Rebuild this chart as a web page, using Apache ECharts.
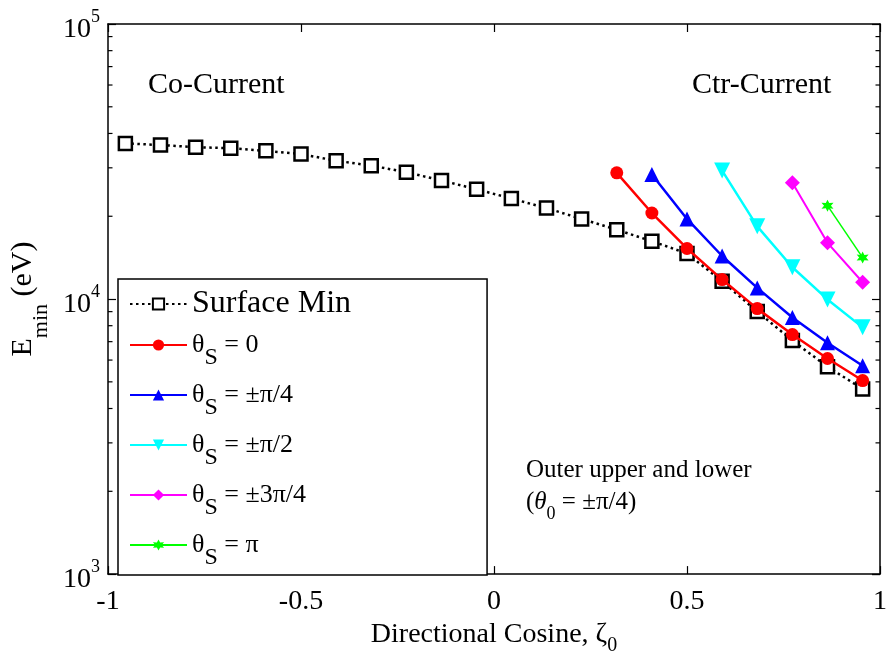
<!DOCTYPE html>
<html>
<head>
<meta charset="utf-8">
<script src="https://cdn.jsdelivr.net/npm/echarts@6/dist/echarts.min.js"></script>
<style>
html,body{margin:0;padding:0;background:#fff;}
#c{width:890px;height:661px;}
</style>
</head>
<body>
<div id="c"></div>
<script>
// ---- data ----
const xSurface = [-0.955, -0.864, -0.773, -0.682, -0.591, -0.5, -0.409, -0.318, -0.227, -0.136, -0.045, 0.045, 0.136, 0.227, 0.318, 0.409, 0.5, 0.591, 0.682, 0.773, 0.864, 0.955];
const ySurface = [36800, 36300, 35650, 35350, 34580, 33650, 31840, 30550, 28920, 26990, 25060, 23200, 21410, 19560, 17870, 16230, 14650, 11600, 9005, 7070, 5675, 4710];

const xTheta0 = [0.318, 0.409, 0.5, 0.591, 0.682, 0.773, 0.864, 0.955];
const yTheta0 = [28760, 20550, 15270, 11770, 9230, 7430, 6080, 5054];

const xThetaPi4 = [0.409, 0.5, 0.591, 0.682, 0.773, 0.864, 0.955];
const yThetaPi4 = [28360, 19560, 14340, 10980, 8570, 6940, 5720];

const xThetaPi2 = [0.591, 0.682, 0.773, 0.864, 0.955];
const yThetaPi2 = [29310, 18380, 13050, 9970, 7890];

const xTheta3Pi4 = [0.773, 0.864, 0.955];
const yTheta3Pi4 = [26480, 16010, 11510];

const xThetaPi = [0.864, 0.955];
const yThetaPi = [21850, 14150];

const seriesNames = ['Surface Min', 'θS = 0', 'θS = ±π/4', 'θS = ±π/2', 'θS = ±3π/4', 'θS = π'];
const xTicks = [-1, -0.5, 0, 0.5, 1];
const yMinorTicks = [2000, 3000, 4000, 5000, 6000, 7000, 8000, 9000, 20000, 30000, 40000, 50000, 60000, 70000, 80000, 90000];

// ---- chart ----
const FONT = '"Liberation Serif", "Times New Roman", serif';
const zip = (xs, ys) => xs.map((x, i) => [x, ys[i]]);
const starPath = 'path://M0,-10L2.5,-4.33L8.66,-5L5,0L8.66,5L2.5,4.33L0,10L-2.5,4.33L-8.66,5L-5,0L-8.66,-5L-2.5,-4.33Z';

const chart = echarts.init(document.getElementById('c'), null, {renderer: 'canvas'});

const axisCommon = {
  axisLine: {show: true, onZero: false, lineStyle: {color: '#000', width: 1.5}},
  axisTick: {show: true, inside: true, length: 8, lineStyle: {color: '#000', width: 1.2}},
  splitLine: {show: false}
};

function legendFmt(name) {
  if (name === 'Surface Min') return '{m|Surface Min}';
  const rest = name.slice(2);
  return '{a|θ}{s|S}{a|' + rest + '}';
}

const option = {
  animation: false,
  backgroundColor: '#fff',
  textStyle: {fontFamily: FONT, color: '#000'},
  grid: {left: 108, right: 4, top: 24, bottom: 78, containLabel: false},
  xAxis: [
    Object.assign({
      type: 'value', min: xTicks[0], max: xTicks[xTicks.length - 1], interval: 0.5,
      position: 'bottom',
      axisLabel: {fontFamily: FONT, fontSize: 28, color: '#000', margin: 14},
      name: '{n|Directional Cosine, ζ}{s|0}',
      nameLocation: 'middle', nameGap: 30,
      nameTextStyle: {
        rich: {
          n: {fontFamily: FONT, fontSize: 28, color: '#000', lineHeight: 30, verticalAlign: 'middle'},
          s: {fontFamily: FONT, fontSize: 20, color: '#000', padding: [22, 0, 0, 0], verticalAlign: 'top'}
        }
      }
    }, axisCommon),
    Object.assign({
      type: 'value', min: xTicks[0], max: xTicks[xTicks.length - 1], interval: 0.5,
      position: 'top', axisLabel: {show: false}
    }, axisCommon)
  ],
  yAxis: [
    Object.assign({
      type: 'log', logBase: 10, min: 1000, max: 100000,
      position: 'left',
      axisLabel: {
        margin: 8,
        padding: [12, 0, 0, 0],
        formatter: function (v) { return '{b|10}{s|' + Math.round(Math.log10(v)) + '}'; },
        rich: {
          b: {fontFamily: FONT, fontSize: 28, color: '#000', verticalAlign: 'middle'},
          s: {fontFamily: FONT, fontSize: 18, color: '#000', padding: [0, 0, 26, 0], verticalAlign: 'top'}
        }
      },
      name: '{e|E}{s|min}{e| (eV)}',
      nameLocation: 'middle', nameGap: 56, nameRotate: 90,
      nameTextStyle: {
        rich: {
          e: {fontFamily: FONT, fontSize: 30, color: '#000', lineHeight: 34, verticalAlign: 'middle'},
          s: {fontFamily: FONT, fontSize: 22, color: '#000', padding: [36, 0, 0, 0], verticalAlign: 'top'}
        }
      }
    }, axisCommon),
    Object.assign({
      type: 'log', logBase: 10, min: 1000, max: 100000,
      position: 'right', axisLabel: {show: false}
    }, axisCommon)
  ],
  legend: {
    show: true,
    data: seriesNames,
    orient: 'vertical',
    left: 118, top: 279,
    itemWidth: 57, itemHeight: 14, itemGap: 12,
    padding: [9, 136, 5, 11],
    borderColor: '#000', borderWidth: 1.5, borderRadius: 0,
    backgroundColor: '#fff',
    selectedMode: false,
    formatter: legendFmt,
    textStyle: {
      fontFamily: FONT, color: '#000',
      rich: {
        m: {fontFamily: FONT, fontSize: 32, color: '#000', lineHeight: 18, verticalAlign: 'middle'},
        a: {fontFamily: FONT, fontSize: 26, color: '#000', lineHeight: 30, verticalAlign: 'middle'},
        s: {fontFamily: FONT, fontSize: 24, color: '#000', padding: [26, 0, 0, 0], verticalAlign: 'top'}
      }
    }
  },
  graphic: [
    {type: 'text', x: 148, y: 85, style: {text: 'Co-Current', font: '30px "Liberation Serif"', fill: '#000', verticalAlign: 'middle'}},
    {type: 'text', x: 692, y: 85, style: {text: 'Ctr-Current', font: '30px "Liberation Serif"', fill: '#000', verticalAlign: 'middle'}},
    {type: 'text', x: 526, y: 470, style: {text: 'Outer upper and lower', font: '25px "Liberation Serif"', fill: '#000', verticalAlign: 'middle'}},
    {type: 'text', x: 526, y: 502, style: {
      text: '{n|(}{i|θ}{s|0}{n| = ±π/4)}', fill: '#000', verticalAlign: 'middle',
      rich: {
        n: {fontFamily: FONT, fontSize: 25, fill: '#000', lineHeight: 28, verticalAlign: 'middle'},
        i: {fontFamily: FONT, fontStyle: 'italic', fontSize: 25, fill: '#000', lineHeight: 28, verticalAlign: 'middle'},
        s: {fontFamily: FONT, fontSize: 18, fill: '#000', padding: [24, 0, 0, 0], verticalAlign: 'top'}
      }
    }}
  ],
  series: [
    {
      type: 'custom', name: 'minorTicks', xAxisIndex: 0, yAxisIndex: 0, silent: true, z: 1,
      data: yMinorTicks.map(v => [xTicks[0], v]),
      renderItem: function (params, api) {
        const v = api.value(1);
        const pl = api.coord([xTicks[0], v]);
        const pr = api.coord([xTicks[xTicks.length - 1], v]);
        const st = {stroke: '#000', lineWidth: 1.2};
        return {type: 'group', children: [
          {type: 'line', shape: {x1: pl[0], y1: pl[1], x2: pl[0] + 4.5, y2: pl[1]}, style: st},
          {type: 'line', shape: {x1: pr[0], y1: pr[1], x2: pr[0] - 4.5, y2: pr[1]}, style: st}
        ]};
      }
    },
    {
      type: 'line', name: seriesNames[0], data: zip(xSurface, ySurface), z: 2,
      symbol: 'rect', symbolSize: 13, showAllSymbol: true,
      lineStyle: {color: '#000', width: 2.5, type: [2.5, 3.5]},
      itemStyle: {color: '#fff', borderColor: '#000', borderWidth: 2.5}
    },
    {
      type: 'line', name: seriesNames[1], data: zip(xTheta0, yTheta0), z: 3,
      symbol: 'circle', symbolSize: 13,
      lineStyle: {color: '#ff0000', width: 2.5},
      itemStyle: {color: '#ff0000'}
    },
    {
      type: 'line', name: seriesNames[2], data: zip(xThetaPi4, yThetaPi4), z: 3,
      symbol: 'triangle', symbolSize: 15,
      lineStyle: {color: '#0000ff', width: 2.5},
      itemStyle: {color: '#0000ff'}
    },
    {
      type: 'line', name: seriesNames[3], data: zip(xThetaPi2, yThetaPi2), z: 3,
      symbol: 'triangle', symbolRotate: 180, symbolSize: 16,
      lineStyle: {color: '#00ffff', width: 2.5},
      itemStyle: {color: '#00ffff'}
    },
    {
      type: 'line', name: seriesNames[4], data: zip(xTheta3Pi4, yTheta3Pi4), z: 3,
      symbol: 'diamond', symbolSize: 15,
      lineStyle: {color: '#ff00ff', width: 2},
      itemStyle: {color: '#ff00ff'}
    },
    {
      type: 'line', name: seriesNames[5], data: zip(xThetaPi, yThetaPi), z: 3,
      symbol: starPath, symbolSize: 12,
      lineStyle: {color: '#00ff00', width: 1.5},
      itemStyle: {color: '#00ff00'}
    }
  ]
};
chart.setOption(option);
</script>
</body>
</html>
